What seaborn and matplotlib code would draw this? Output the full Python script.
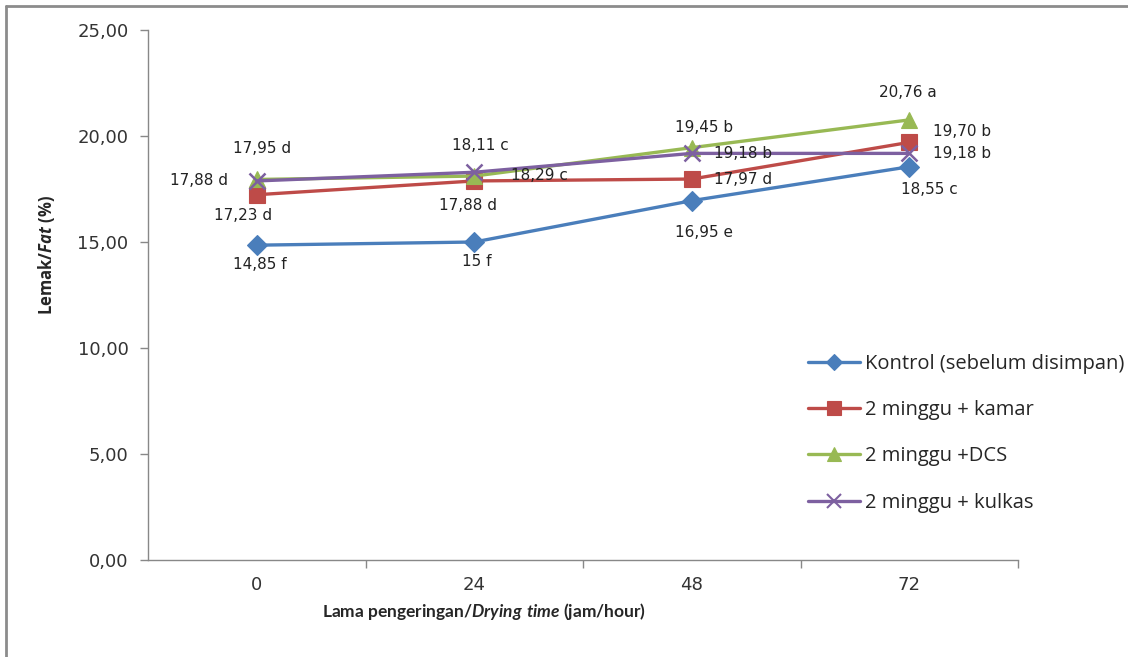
import matplotlib
matplotlib.use('Agg')
import matplotlib.pyplot as plt
import matplotlib.ticker as mticker
from matplotlib.lines import Line2D
import seaborn as sns
import pandas as pd

# Data
drying_time = ['0', '24', '48', '72']
kontrol = [14.85, 15.00, 16.95, 18.55]
kamar = [17.23, 17.88, 17.97, 19.70]
dcs = [17.95, 18.11, 19.45, 20.76]
kulkas = [17.88, 18.29, 19.18, 19.18]

kontrol_notes = ['14,85 f', '15 f', '16,95 e', '18,55 c']
kamar_notes = ['17,23 d', '17,88 d', '17,97 d', '19,70 b']
dcs_notes = ['17,95 d', '18,11 c', '19,45 b', '20,76 a']
kulkas_notes = ['17,88 d', '18,29 c', '19,18 b', '19,18 b']

series_names = ['Kontrol (sebelum disimpan)', '2 minggu + kamar',
                '2 minggu +DCS', '2 minggu + kulkas']

# Styling
colors = ['#4A7EBB', '#BE4B48', '#98B954', '#7D60A0']
markers = ['D', 's', '^', 'x']
marker_sizes = [10, 12, 12, 12]

# Label offsets in pixels (dx, dy) and alignment per point
label_pos = [
    [(3, -19, 'center'), (3, -20, 'center'), (12, -32, 'center'), (20, -23, 'center')],
    [(-14, -21, 'center'), (-6, -25, 'center'), (22, 0, 'left'), (24, 11, 'left')],
    [(5, 31, 'center'), (6, 31, 'center'), (12, 20, 'center'), (-1, 27, 'center')],
    [(-29, 0, 'right'), (37, -3, 'left'), (22, 0, 'left'), (24, 0, 'left')],
]

all_values = [kontrol, kamar, dcs, kulkas]
all_notes = [kontrol_notes, kamar_notes, dcs_notes, kulkas_notes]

sns.set_style('white')
plt.rcParams['font.family'] = ['DejaVu Sans']
plt.rcParams['mathtext.fontset'] = 'custom'
plt.rcParams['mathtext.bfit'] = 'Lato:style=italic:weight=bold'
plt.rcParams['mathtext.it'] = 'Open Sans:style=italic:weight=bold:stretch=condensed'

fig = plt.figure(figsize=(11.28, 6.57), dpi=100)
ax = fig.add_axes([148 / 1128, 1 - 560 / 657, 870 / 1128, 530 / 657])

for name, vals, c, m, ms in zip(series_names, all_values, colors, markers, marker_sizes):
    df = pd.DataFrame({'time': drying_time, 'fat': vals})
    sns.lineplot(data=df, x='time', y='fat', ax=ax, color=c, linewidth=2.4,
                 marker=m, markersize=ms, markeredgecolor=c,
                 markeredgewidth=1.8 if m == 'x' else 0.8, label=name, legend=False)

# Data labels
for vals, notes, pos in zip(all_values, all_notes, label_pos):
    for i, (v, note) in enumerate(zip(vals, notes)):
        dx, dy, ha = pos[i]
        ax.annotate(note, xy=(i, v), xytext=(dx, dy), textcoords='offset pixels',
                    ha=ha, va='center', fontsize=11, color='#222222')

ax.set_xlim(-0.5, 3.5)
ax.set_ylim(0, 25)
ax.yaxis.set_major_locator(mticker.MultipleLocator(5))
ax.yaxis.set_major_formatter(mticker.FuncFormatter(lambda v, p: f'{v:.2f}'.replace('.', ',')))
ax.tick_params(axis='y', which='major', left=True, length=6, width=1, color='#888888',
               labelsize=13, labelcolor='#333333', pad=8)
ax.tick_params(axis='x', which='major', bottom=False, labelsize=13, labelcolor='#333333', pad=8)
ax.set_xticks([0.5, 1.5, 2.5, 3.5], minor=True)
ax.tick_params(axis='x', which='minor', bottom=True, length=6, width=1, color='#888888')

for side in ['top', 'right']:
    ax.spines[side].set_visible(False)
for side in ['left', 'bottom']:
    ax.spines[side].set_color('#888888')
    ax.spines[side].set_linewidth(1)

ax.set_xlabel('Lama pengeringan/$\\mathbfit{Drying\\ time}$ (jam/hour)', fontsize=12.5,
              fontweight='bold', family='Lato')
ax.xaxis.set_label_coords((484 - 148) / 870, -(612 - 560) / 530)
ax.xaxis.label.set_va('center')
ax.set_ylabel('Lemak/$\\mathit{Fat}$ (%)', fontsize=12, fontweight='bold',
              family='Open Sans', fontstretch='condensed')
ax.yaxis.set_label_coords(-(148 - 47) / 870, (560 - 255) / 530)
ax.yaxis.label.set_va('center')

handles = [Line2D([0], [0], color=c, lw=2.4, marker=m, markersize=ms * 0.85,
                  markeredgecolor=c, markeredgewidth=1.5 if m == 'x' else 0.8)
           for c, m, ms in zip(colors, markers, marker_sizes)]
fig.legend(handles, series_names, loc='upper left', bbox_to_anchor=(798 / 1128, 1 - 344 / 657),
           frameon=False, handlelength=2.6, handletextpad=0.25, labelspacing=1.3,
           prop={'family': 'Open Sans', 'size': 14.5}, borderpad=0)

# Outer gray frame (top and left edges visible)
fig.add_artist(Line2D([5.5 / 1128, 1], [1 - 5.5 / 657, 1 - 5.5 / 657],
                      transform=fig.transFigure, color='#8c8c8c', lw=2))
fig.add_artist(Line2D([5.5 / 1128, 5.5 / 1128], [0, 1 - 5.5 / 657],
                      transform=fig.transFigure, color='#8c8c8c', lw=2))

fig.savefig('out.png', dpi=100, facecolor='white')
